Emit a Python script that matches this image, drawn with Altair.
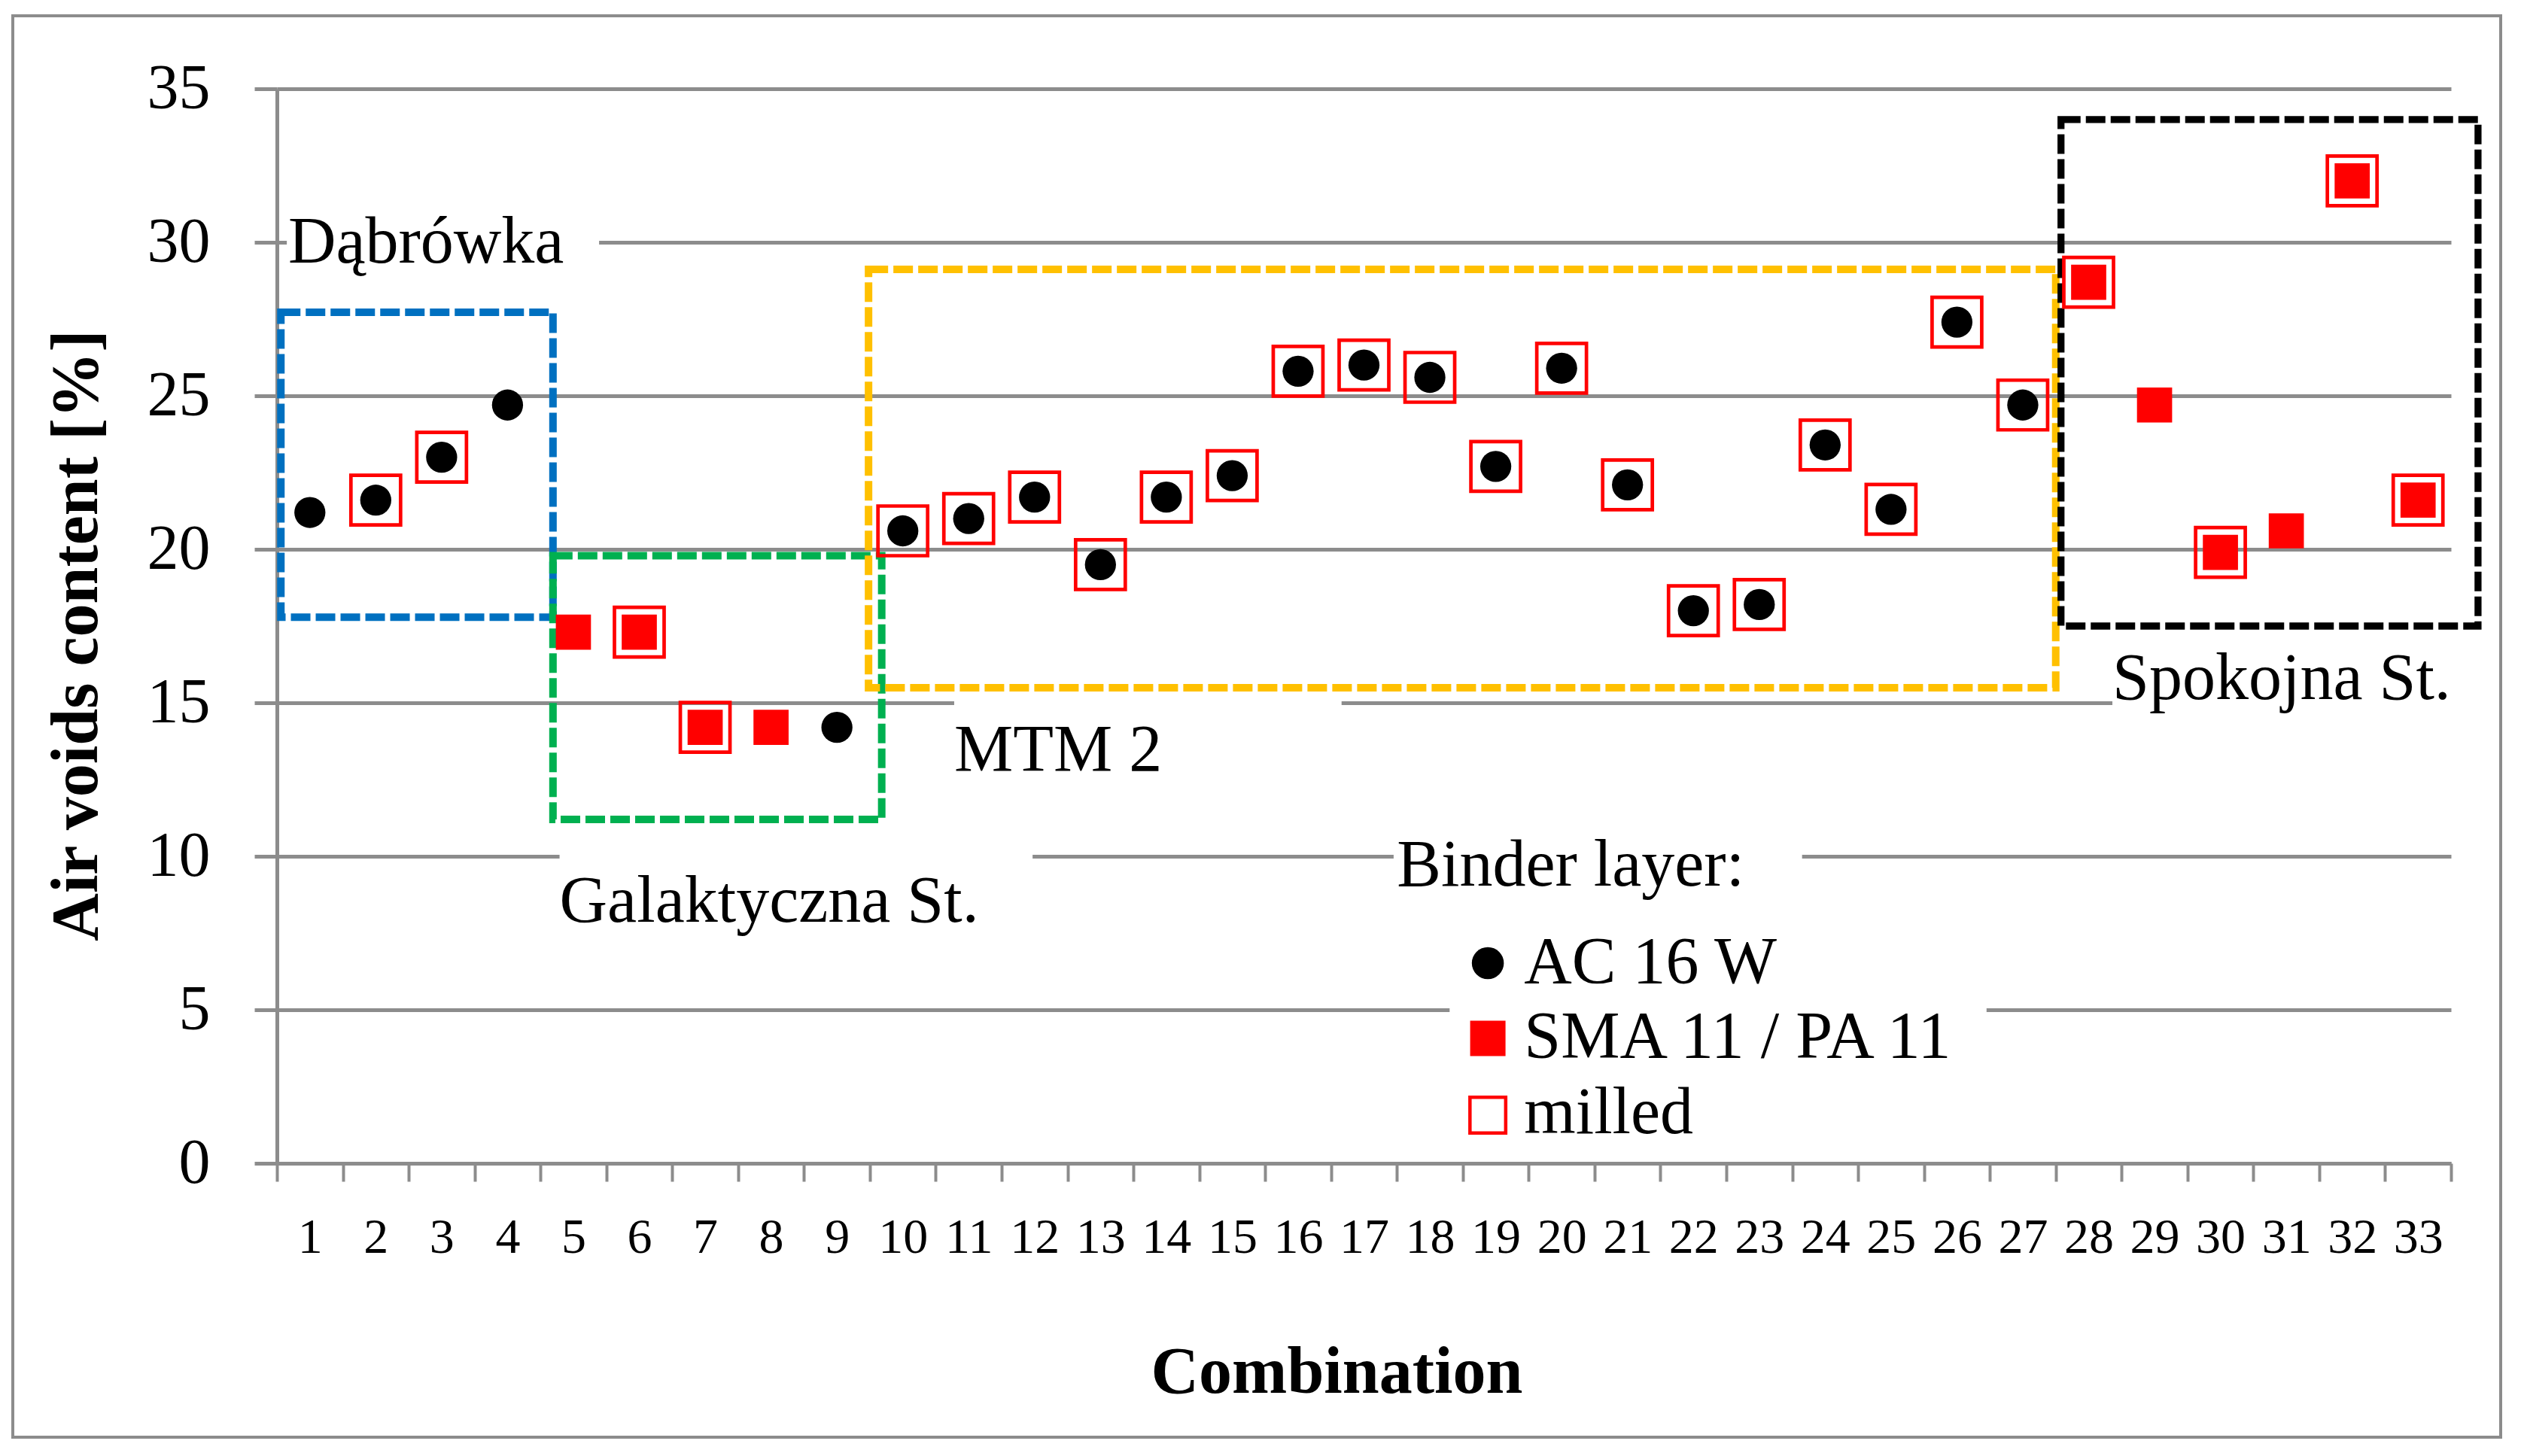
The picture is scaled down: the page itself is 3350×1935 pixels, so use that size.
import altair as alt
import pandas as pd

# ---------------- data ----------------
combination = list(range(1, 34))
air_voids = [21.2, 21.6, 23.0, 24.7, 17.3, 17.3, 14.2, 14.2, 14.2, 20.6,
             21.0, 21.7, 19.5, 21.7, 22.4, 25.8, 26.0, 25.6, 22.7, 25.9,
             22.1, 18.0, 18.2, 23.4, 21.3, 27.4, 24.7, 28.7, 24.7, 19.9,
             20.6, 32.0, 21.6]
AC = "AC 16 W"
SMA = "SMA 11 / PA 11"
binder = [AC] * 4 + [SMA] * 4 + [AC] * 19 + [SMA] * 6
milled = [0, 1, 1, 0, 0, 1, 1, 0, 0] + [1] * 18 + [1, 0, 1, 0, 1, 1]

# dashed region boxes (combination units / % units)
region_names = ["Dąbrówka", "Galaktyczna St.", "MTM 2", "Spokojna St."]
region_x0 = [0.56, 4.69, 9.48, 27.58]
region_x1 = [4.69, 9.68, 27.50, 33.91]
region_y0 = [17.79, 11.20, 15.49, 17.50]
region_y1 = [27.72, 19.79, 29.12, 34.00]
region_colors = ["#0070C0", "#00B050", "#FFC000", "#000000"]
region_widths = [10, 10, 10, 9.3]

# annotation texts
label_texts = ["Dąbrówka", "Galaktyczna St.", "MTM 2", "Spokojna St.", "Binder layer:"]
label_x = [0.67, 4.79, 10.78, 28.36, 17.50]
label_y = [29.33, 7.87, 12.79, 15.12, 9.04]

# white text-box backgrounds (they interrupt the gridlines)
bg_x0 = [0.65, 4.79, 10.78, 28.36, 17.45, 18.30]
bg_x1 = [5.39, 11.97, 16.66, 33.60, 23.65, 26.45]
bg_y0 = [28.8, 7.0, 12.2, 14.2, 8.6, 2.4]
bg_y1 = [31.2, 10.6, 15.3, 16.8, 10.8, 5.9]

# legend
legend_labels = [AC, SMA, "milled"]
legend_shapes = ["circle", "square", "square"]
legend_fill = ["#000000", "#ff0000", "#ffffff"]
legend_stroke = ["#000000", "#ff0000", "#ff0000"]
legend_size = [1810, 2209, 2256]
legend_stroke_w = [0, 0, 4.5]
legend_sym_x = [18.88, 18.88, 18.88]
legend_sym_y = [6.52, 4.07, 1.57]
legend_text_x = [19.43, 19.43, 19.43]
legend_text_y = [5.88, 3.45, 0.98]

# ---------------- tables ----------------
df = pd.DataFrame({"comb": combination, "value": air_voids,
                   "binder": binder, "milled": milled})
regions = pd.DataFrame({"name": region_names, "x0": region_x0, "x1": region_x1,
                        "y0": region_y0, "y1": region_y1,
                        "col": region_colors, "sw": region_widths})
labels = pd.DataFrame({"text": label_texts, "x": label_x, "y": label_y})
bgs = pd.DataFrame({"x0": bg_x0, "x1": bg_x1, "y0": bg_y0, "y1": bg_y1})
legend = pd.DataFrame({"label": legend_labels, "shape": legend_shapes,
                       "fill": legend_fill, "stroke": legend_stroke,
                       "size": legend_size, "sw": legend_stroke_w,
                       "sx": legend_sym_x, "sy": legend_sym_y,
                       "tx": legend_text_x, "ty": legend_text_y})

FONT = "Liberation Serif"
GRAY = "#8c8c8c"
W, H = 2889, 1428

y_scale = alt.Scale(domain=[0, 35], nice=False, zero=False)
xo_scale = alt.Scale(domain=combination, paddingInner=0, paddingOuter=0)
xq_scale = alt.Scale(domain=[0.5, 33.5], nice=False, zero=False)

x_axis = alt.Axis(
    title="Combination", labelAngle=0, labelFont=FONT, labelFontSize=66,
    labelColor="#000000", labelBaseline="alphabetic", labelPadding=94,
    tickBand="extent", tickSize=24, tickColor=GRAY, tickWidth=4,
    domainColor=GRAY, domainWidth=5, grid=False,
    titleFont=FONT, titleFontSize=88, titleFontWeight="bold", titleColor="#000000",
    titleX=1408, titleY=304, titleBaseline="alphabetic", titleAlign="center",
)
y_axis = alt.Axis(
    title="Air voids content [%]", values=list(range(0, 36, 5)),
    labelFont=FONT, labelFontSize=84, labelColor="#000000", labelPadding=59,
    tickSize=30, tickColor=GRAY, tickWidth=5,
    domainColor=GRAY, domainWidth=5, gridColor=GRAY, gridWidth=5, grid=True,
    titleFont=FONT, titleFontSize=88, titleFontWeight="bold", titleColor="#000000",
    titleAngle=270, titleX=-240, titleY=726, titleBaseline="alphabetic",
    titleAlign="center",
)


def Y(field):
    return alt.Y(field, scale=y_scale, axis=y_axis)


base = alt.Chart(df)
ac_layer = base.transform_filter(alt.datum.binder == AC).mark_point(
    shape="circle", filled=True, size=1706, color="#000000", opacity=1
).encode(x=alt.X("comb:O", scale=xo_scale, axis=x_axis), y=Y("value:Q"))
sma_layer = base.transform_filter(alt.datum.binder == SMA).mark_point(
    shape="square", filled=True, size=2180, color="#ff0000", opacity=1
).encode(x=alt.X("comb:O", scale=xo_scale, axis=x_axis), y=Y("value:Q"))
milled_layer = base.transform_filter(alt.datum.milled == 1).mark_point(
    shape="square", filled=False, size=4356, color="#ff0000",
    strokeWidth=4.7, opacity=1
).encode(x=alt.X("comb:O", scale=xo_scale, axis=x_axis), y=Y("value:Q"))

data_group = alt.layer(ac_layer, sma_layer, milled_layer)

bg_layer = alt.Chart(bgs).mark_rect(fill="#ffffff").encode(
    x=alt.X("x0:Q", scale=xq_scale, axis=None), x2="x1:Q",
    y=Y("y0:Q"), y2="y1:Q")

box_layer = alt.Chart(regions).mark_rect(
    fill="transparent", strokeDash=[26, 7], strokeJoin="miter"
).encode(
    x=alt.X("x0:Q", scale=xq_scale, axis=None), x2="x1:Q",
    y=Y("y0:Q"), y2="y1:Q",
    stroke=alt.Stroke("col:N", scale=None),
    strokeWidth=alt.StrokeWidth("sw:Q", scale=None))

text_layer = alt.Chart(labels).mark_text(
    align="left", baseline="alphabetic", font=FONT, fontSize=88, color="#000000"
).encode(x=alt.X("x:Q", scale=xq_scale, axis=None), y=Y("y:Q"), text="text:N")

legend_sym = alt.Chart(legend).mark_point(filled=True, opacity=1).encode(
    x=alt.X("sx:Q", scale=xq_scale, axis=None),
    y=Y("sy:Q"),
    shape=alt.Shape("shape:N", scale=None),
    fill=alt.Fill("fill:N", scale=None),
    stroke=alt.Stroke("stroke:N", scale=None),
    size=alt.Size("size:Q", scale=None),
    strokeWidth=alt.StrokeWidth("sw:Q", scale=None))

legend_txt = alt.Chart(legend).mark_text(
    align="left", baseline="alphabetic", font=FONT, fontSize=88, color="#000000"
).encode(x=alt.X("tx:Q", scale=xq_scale, axis=None), y=Y("ty:Q"), text="label:N")

border = alt.Chart(pd.DataFrame({"k": [0]})).mark_rect(
    fill="transparent", stroke=GRAY, strokeWidth=4
).encode(x=alt.value(-351), x2=alt.value(2955), y=alt.value(-97), y2=alt.value(1792))

annot_group = alt.layer(bg_layer, box_layer, text_layer, legend_sym, legend_txt, border)

chart = alt.layer(annot_group, data_group).resolve_scale(x="independent").properties(
    width=W, height=H,
    autosize=alt.AutoSizeParams(type="none"),
    padding={"left": 360, "top": 110, "right": 80, "bottom": 375},
    background="#ffffff",
).configure_view(stroke=None)

chart.save("out.html", embed_options={"renderer": "svg", "actions": False})
